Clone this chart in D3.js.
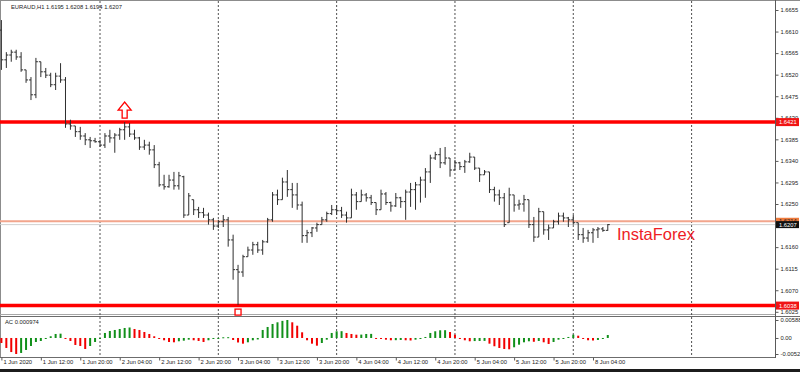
<!DOCTYPE html>
<html>
<head>
<meta charset="utf-8">
<script src="https://cdn.jsdelivr.net/npm/d3@7"></script>
<style>
  body { margin: 0; background: #fff; }
  svg text { font-family: "Liberation Sans", Arial, sans-serif; }
</style>
</head>
<body>
<div class="chart"></div>
<script>
// EURAUD H1 bars with Accelerator Oscillator (AC) sub-window

// bar data, one value per hourly bar, first bar = 1 Jun 04:00
var barOpen = [1.6613,1.6551,1.6561,1.6567,1.6557,1.6530,1.6509,1.6478,1.6547,1.6526,
  1.6519,1.6499,1.6517,1.6509,1.6417,1.6413,1.6401,1.6392,1.6384,1.6382,
  1.6380,1.6373,1.6392,1.6388,1.6394,1.6405,1.6411,1.6396,1.6388,1.6369,
  1.6373,1.6363,1.6332,1.6290,1.6286,1.6300,1.6288,1.6307,1.6227,1.6259,
  1.6238,1.6232,1.6227,1.6217,1.6204,1.6213,1.6217,1.6175,1.6113,1.6108,
  1.6140,1.6154,1.6165,1.6154,1.6171,1.6217,1.6269,1.6259,1.6296,1.6280,
  1.6269,1.6248,1.6184,1.6190,1.6200,1.6207,1.6217,1.6230,1.6238,1.6236,
  1.6227,1.6221,1.6269,1.6255,1.6269,1.6263,1.6253,1.6238,1.6271,1.6253,
  1.6246,1.6263,1.6255,1.6275,1.6280,1.6290,1.6300,1.6317,1.6346,1.6353,
  1.6336,1.6346,1.6321,1.6336,1.6328,1.6338,1.6348,1.6325,1.6311,1.6317,
  1.6280,1.6269,1.6263,1.6211,1.6269,1.6248,1.6250,1.6259,1.6207,1.6181,
  1.6234,1.6196,1.6200,1.6213,1.6225,1.6221,1.6217,1.6211,1.6186,1.6179,
  1.6190,1.6196,1.6198,1.6195];
var barHigh = [1.6634,1.6567,1.6572,1.6572,1.6567,1.6530,1.6515,1.6555,1.6547,1.6534,
  1.6524,1.6524,1.6544,1.6515,1.6426,1.6413,1.6411,1.6398,1.6390,1.6388,
  1.6384,1.6398,1.6405,1.6398,1.6409,1.6421,1.6419,1.6405,1.6390,1.6384,
  1.6380,1.6373,1.6338,1.6311,1.6311,1.6317,1.6317,1.6309,1.6273,1.6259,
  1.6244,1.6242,1.6232,1.6221,1.6217,1.6227,1.6223,1.6186,1.6123,1.6144,
  1.6161,1.6171,1.6171,1.6175,1.6221,1.6275,1.6280,1.6305,1.6321,1.6294,
  1.6294,1.6255,1.6196,1.6202,1.6211,1.6223,1.6234,1.6248,1.6248,1.6244,
  1.6234,1.6282,1.6275,1.6280,1.6273,1.6269,1.6253,1.6280,1.6275,1.6255,
  1.6273,1.6265,1.6280,1.6294,1.6296,1.6307,1.6325,1.6353,1.6359,1.6367,
  1.6369,1.6346,1.6342,1.6338,1.6342,1.6357,1.6348,1.6325,1.6321,1.6317,
  1.6286,1.6280,1.6273,1.6284,1.6269,1.6259,1.6269,1.6259,1.6223,1.6242,
  1.6234,1.6207,1.6217,1.6232,1.6232,1.6223,1.6227,1.6211,1.6200,1.6196,
  1.6200,1.6202,1.6202,1.6208];
var barLow = [1.6530,1.6534,1.6547,1.6551,1.6526,1.6503,1.6467,1.6471,1.6515,1.6513,
  1.6494,1.6488,1.6503,1.6409,1.6405,1.6390,1.6384,1.6373,1.6367,1.6378,
  1.6369,1.6367,1.6378,1.6357,1.6384,1.6384,1.6390,1.6384,1.6363,1.6363,
  1.6353,1.6325,1.6286,1.6280,1.6284,1.6280,1.6280,1.6221,1.6227,1.6227,
  1.6221,1.6221,1.6207,1.6196,1.6200,1.6202,1.6161,1.6092,1.6039,1.6098,
  1.6140,1.6144,1.6148,1.6144,1.6169,1.6213,1.6248,1.6259,1.6265,1.6242,
  1.6238,1.6169,1.6169,1.6181,1.6192,1.6207,1.6213,1.6227,1.6227,1.6221,
  1.6211,1.6221,1.6238,1.6255,1.6255,1.6248,1.6227,1.6238,1.6248,1.6234,
  1.6244,1.6242,1.6217,1.6244,1.6238,1.6253,1.6263,1.6294,1.6342,1.6325,
  1.6332,1.6307,1.6321,1.6321,1.6315,1.6336,1.6321,1.6296,1.6311,1.6273,
  1.6255,1.6248,1.6202,1.6211,1.6234,1.6238,1.6234,1.6200,1.6171,1.6181,
  1.6186,1.6175,1.6200,1.6207,1.6213,1.6202,1.6207,1.6175,1.6169,1.6171,
  1.6169,1.6179,1.6192,1.6194];
var barClose = [1.6551,1.6561,1.6567,1.6557,1.6530,1.6509,1.6478,1.6547,1.6526,1.6519,
  1.6499,1.6517,1.6509,1.6417,1.6413,1.6401,1.6392,1.6384,1.6382,1.6380,
  1.6373,1.6392,1.6388,1.6394,1.6405,1.6411,1.6396,1.6388,1.6369,1.6373,
  1.6363,1.6332,1.6290,1.6286,1.6300,1.6288,1.6309,1.6227,1.6267,1.6238,
  1.6232,1.6227,1.6217,1.6204,1.6213,1.6217,1.6175,1.6113,1.6108,1.6140,
  1.6154,1.6165,1.6154,1.6171,1.6217,1.6269,1.6259,1.6296,1.6280,1.6269,
  1.6248,1.6184,1.6190,1.6200,1.6207,1.6217,1.6230,1.6238,1.6236,1.6227,
  1.6221,1.6269,1.6255,1.6269,1.6263,1.6253,1.6238,1.6271,1.6253,1.6246,
  1.6263,1.6255,1.6275,1.6280,1.6290,1.6300,1.6317,1.6346,1.6353,1.6336,
  1.6346,1.6321,1.6336,1.6328,1.6338,1.6348,1.6325,1.6311,1.6317,1.6280,
  1.6269,1.6263,1.6207,1.6269,1.6248,1.6250,1.6259,1.6207,1.6181,1.6234,
  1.6196,1.6200,1.6213,1.6225,1.6221,1.6217,1.6211,1.6186,1.6179,1.6190,
  1.6196,1.6198,1.6195,1.6207];

// Accelerator Oscillator values, same bars
var acValues = [-0.00164,-0.00327,-0.00460,-0.00524,-0.00490,-0.00392,-0.00262,-0.00131,-0.00098,-0.00033,
  0.00056,0.00131,0.00141,-0.00033,-0.00098,-0.00229,-0.00262,-0.00360,-0.00262,-0.00131,
  -0.00016,0.00164,0.00229,0.00262,0.00294,0.00327,0.00343,0.00294,0.00262,0.00196,
  0.00131,0.00056,-0.00016,-0.00075,-0.00131,-0.00141,-0.00108,-0.00088,-0.00056,-0.00075,
  -0.00098,-0.00131,-0.00075,-0.00016,-0.00007,0.00023,0.00026,-0.00065,-0.00147,-0.00186,
  -0.00141,-0.00075,-0.00049,0.00262,0.00360,0.00458,0.00513,0.00560,0.00588,0.00513,
  0.00402,0.00186,-0.00075,-0.00186,-0.00252,-0.00164,-0.00056,0.00164,0.00219,0.00222,
  0.00164,0.00131,0.00108,0.00111,0.00131,0.00134,-0.00010,-0.00016,-0.00056,-0.00075,
  -0.00072,-0.00065,-0.00075,-0.00082,-0.00056,-0.00023,0.00033,0.00164,0.00219,0.00252,
  0.00255,0.00196,0.00108,-0.00010,-0.00075,-0.00108,-0.00101,-0.00098,-0.00095,-0.00186,
  -0.00271,-0.00327,-0.00360,-0.00370,-0.00304,-0.00219,-0.00141,-0.00108,-0.00124,-0.00098,
  -0.00141,-0.00196,-0.00131,-0.00056,-0.00010,0.00033,0.00108,0.00075,-0.00023,-0.00075,
  -0.00082,-0.00065,-0.00033,0.000974];

// axis ticks and labels
var priceTicks = [1.6655,1.6610,1.6565,1.6520,1.6475,1.6430,1.6385,1.6340,1.6295,1.6250,1.6205,1.6160,1.6115,1.6070,1.6025];
var acTicks = [0.005882, 0, -0.00524];
var acTickLabels = ["0.005882", "0.00", "-0.00524"];
var timeTickBars = [0,8,16,24,32,40,48,56,64,72,80,88,96,104,112,120];
var timeLabels = ["1 Jun 2020","1 Jun 12:00","1 Jun 20:00","2 Jun 04:00","2 Jun 12:00","2 Jun 20:00",
  "3 Jun 04:00","3 Jun 12:00","3 Jun 20:00","4 Jun 04:00","4 Jun 12:00","4 Jun 20:00",
  "5 Jun 04:00","5 Jun 12:00","5 Jun 20:00","8 Jun 04:00"];
var daySeparators = [20, 44, 68, 92, 116, 140];   // bar index of each midnight
var levelLines = [1.6421, 1.6038];
var markLevel = 1.6214;
var bidPrice = 1.6207;
var arrowBar = 25, squareBar = 48;
var titleText = "EURAUD,H1  1.6195 1.6208 1.6194 1.6207";
var acTitle = "AC 0.000974";

// svg wrapper
var svgWidth = 800, svgHeight = 372;
var axisX = 775.5;
var fontSize = 5.8;
var svg = d3.select(".chart").append("svg").attr("width", svgWidth).attr("height", svgHeight);

// scales
var x = d3.scaleLinear().domain([0, 140]).range([1.4, 691.6]);
var y = d3.scaleLinear().domain([1.6655, 1.6025]).range([10, 311.8]);
var yAc = d3.scaleLinear().domain([0.005882, -0.00524]).range([320, 354]);

// frame ==============================================================
svg.append("rect").attr("width", svgWidth).attr("height", svgHeight).attr("fill", "#fff");
svg.append("line").attr("x1", 0).attr("x2", svgWidth).attr("y1", 0.5).attr("y2", 0.5).attr("stroke", "#8c8c8c");
svg.append("line").attr("x1", 0.5).attr("x2", 0.5).attr("y1", 0).attr("y2", 357).attr("stroke", "#8c8c8c");
svg.append("line").attr("x1", 0).attr("x2", axisX).attr("y1", 314.5).attr("y2", 314.5).attr("stroke", "#a8a8a8");
svg.append("line").attr("x1", 0).attr("x2", svgWidth).attr("y1", 316.5).attr("y2", 316.5).attr("stroke", "#6c6c6c");
svg.append("line").attr("x1", 0).attr("x2", axisX).attr("y1", 357.5).attr("y2", 357.5).attr("stroke", "#6c6c6c");
svg.append("rect").attr("x", 0).attr("y", 369).attr("width", svgWidth).attr("height", 3).attr("fill", "#1c1c1c");

// day separators (dotted grid)
svg.selectAll(".sep").data(daySeparators).enter().append("line")
  .attr("class", "sep")
  .attr("x1", d => x(d)).attr("x2", d => x(d))
  .attr("y1", 1).attr("y2", 357)
  .attr("stroke", "#3c3c3c").attr("stroke-width", 0.9).attr("stroke-dasharray", "2,2");

// horizontal objects
svg.append("line").attr("x1", 0).attr("x2", axisX).attr("y1", y(markLevel)).attr("y2", y(markLevel))
  .attr("stroke", "#f2a58c").attr("stroke-width", 2);
svg.append("line").attr("x1", 0).attr("x2", axisX).attr("y1", y(bidPrice)).attr("y2", y(bidPrice))
  .attr("stroke", "#d0d0d0").attr("stroke-width", 1);
svg.selectAll(".level").data(levelLines).enter().append("line")
  .attr("class", "level")
  .attr("x1", 0).attr("x2", axisX)
  .attr("y1", d => y(d)).attr("y2", d => y(d))
  .attr("stroke", "#ff0000").attr("stroke-width", 3.5);

// OHLC bars ===========================================================
var bars = d3.range(barOpen.length);
svg.append("g").selectAll("path").data(bars).enter().append("path")
  .attr("d", function(i) {
    var cx = x(i);
    return "M" + cx + "," + y(barHigh[i]) + "V" + y(barLow[i]) +
      "M" + (cx - 2) + "," + y(barOpen[i]) + "H" + cx +
      "M" + cx + "," + y(barClose[i]) + "H" + (cx + 2);
  })
  .attr("fill", "none").attr("stroke", "#2e2e2e").attr("stroke-width", 1);

// arrow above the high and square below the low
var ax = x(arrowBar), ab = y(barHigh[arrowBar]) - 4;
svg.append("path")
  .attr("d", `M${ax - 2.5},${ab} V${ab - 8} H${ax - 6.5} L${ax},${ab - 16} L${ax + 6.5},${ab - 8} H${ax + 2.5} V${ab} Z`)
  .attr("fill", "#fff").attr("stroke", "#ff0000").attr("stroke-width", 1.3);
var sx = x(squareBar), st = y(barLow[squareBar]) + 4;
svg.append("rect").attr("x", sx - 3).attr("y", st).attr("width", 6).attr("height", 6)
  .attr("fill", "#fff").attr("stroke", "#ff0000").attr("stroke-width", 1.3);

// AC histogram =========================================================
svg.append("g").selectAll("rect").data(bars).enter().append("rect")
  .attr("x", i => x(i) - 1)
  .attr("width", 2)
  .attr("y", i => Math.min(yAc(acValues[i]), yAc(0)))
  .attr("height", i => Math.max(1, Math.abs(yAc(acValues[i]) - yAc(0))))
  .attr("fill", i => (i > 0 && acValues[i] > acValues[i - 1]) ? "#11901a" : "#f20000");

// right price axis ======================================================
svg.append("line").attr("x1", axisX).attr("x2", axisX).attr("y1", 0).attr("y2", 358).attr("stroke", "#5a5a5a");
var rightAxis = d3.axisRight(y).tickValues(priceTicks).tickSize(3).tickPadding(2).tickFormat(d3.format(".4f"));
svg.append("g").attr("transform", `translate(${axisX},0)`).call(rightAxis)
  .call(g => g.select(".domain").remove())
  .call(g => g.selectAll("line").attr("stroke", "#5a5a5a"))
  .call(g => g.selectAll("text").attr("font-size", fontSize).attr("fill", "#222").attr("font-family", null));

var acAxis = d3.axisRight(yAc).tickValues(acTicks).tickSize(3).tickPadding(2).tickFormat((d, i) => acTickLabels[i]);
svg.append("g").attr("transform", `translate(${axisX},0)`).call(acAxis)
  .call(g => g.select(".domain").remove())
  .call(g => g.selectAll("line").attr("stroke", "#5a5a5a"))
  .call(g => g.selectAll("text").attr("font-size", fontSize).attr("fill", "#222").attr("font-family", null));

// price tags on the axis
function priceTag(v, bg, fg, h) {
  svg.append("rect").attr("x", axisX + 0.5).attr("y", y(v) - h / 2).attr("width", 23).attr("height", h).attr("fill", bg);
  svg.append("text").attr("x", axisX + 3.5).attr("y", y(v)).attr("dy", "0.35em")
    .attr("font-size", fontSize).attr("fill", fg).text(d3.format(".4f")(v));
}
priceTag(markLevel, "#ee7a3c", "#222", 7);
priceTag(bidPrice, "#111", "#fff", 7);
levelLines.forEach(v => priceTag(v, "#f01414", "#fff", 8));

// time axis =============================================================
var bottomAxis = d3.axisBottom(x).tickValues(timeTickBars).tickSize(3).tickFormat((d, i) => timeLabels[i]);
svg.append("g").attr("transform", "translate(0,357.5)").call(bottomAxis)
  .call(g => g.select(".domain").remove())
  .call(g => g.selectAll("line").attr("stroke", "#5a5a5a"))
  .call(g => g.selectAll("text").attr("font-size", fontSize).attr("fill", "#222").attr("font-family", null)
    .attr("text-anchor", "start").attr("x", 1.5).attr("y", 2.5).attr("dy", "0.71em"));

// texts ===================================================================
svg.append("text").attr("x", 11).attr("y", 9).attr("font-size", fontSize).attr("fill", "#222").text(titleText);
svg.append("text").attr("x", 5).attr("y", 324).attr("font-size", fontSize).attr("fill", "#222").text(acTitle);
svg.append("text").attr("x", 617).attr("y", 240).attr("font-size", 16.5).attr("fill", "#ee1c25").text("InstaForex");
</script>
</body>
</html>
